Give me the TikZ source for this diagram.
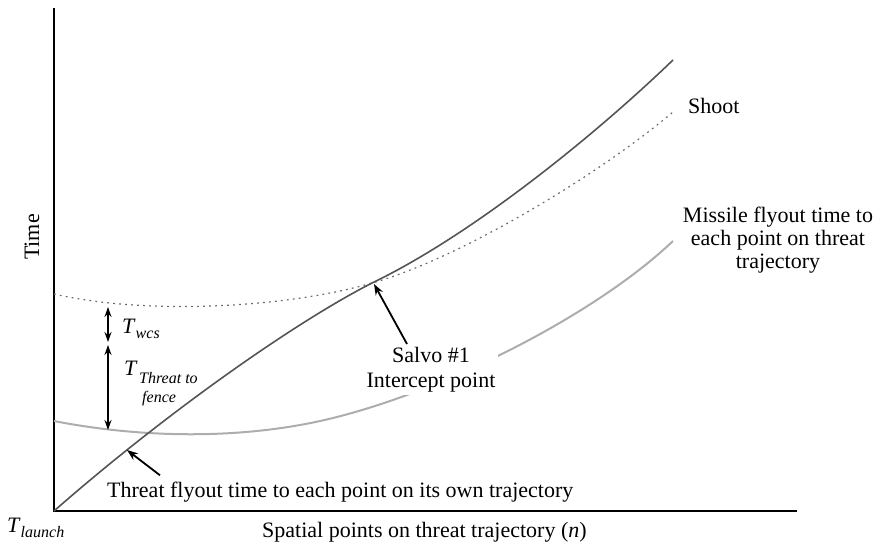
\documentclass[tikz,border=0pt]{standalone}
\usepackage{fontspec}
\setmainfont{Liberation Serif}
\usetikzlibrary{arrows.meta}
\definecolor{threatgray}{gray}{0.33}
\definecolor{shootgray}{gray}{0.42}
\definecolor{missilegray}{gray}{0.68}
\begin{document}
\begin{tikzpicture}[x=1pt,y=-1pt,
  lbl/.style={inner sep=0pt, font=\fontsize{22}{24}\selectfont},
  sublbl/.style={inner sep=0pt, font=\fontsize{16}{16}\selectfont\itshape},
  axisline/.style={line width=2.6pt, black},
  threatcurve/.style={line width=1.6pt, threatgray},
  shootcurve/.style={line width=1.2pt, shootgray, dash pattern=on 1.8pt off 4.2pt},
  missilecurve/.style={line width=2pt, missilegray},
  pointer/.style={line width=1.8pt, black, -{Stealth[length=11pt,width=8pt]}},
  span/.style={line width=1.8pt, black, {Stealth[length=10pt,width=7pt]}-{Stealth[length=10pt,width=7pt]}},
]
\useasboundingbox (0,0) rectangle (877,548);

% axes
\coordinate (ytop) at (54,8);
\coordinate (origin) at (54,511);
\coordinate (xend) at (797,511);
\draw[axisline] (ytop) -- (origin) -- (xend);

% key points of the curves
\coordinate (shootstart) at (54,294);
\coordinate (intercept) at (372,283);
\coordinate (shootend) at (673,112);
\coordinate (missilestart) at (54,421);
\coordinate (missilemid) at (300,425);
\coordinate (missileend) at (673,241);
\coordinate (threatend) at (673,60);

% shoot curve (dotted)
\draw[shootcurve] (shootstart) .. controls (150,316) and (290,307) .. (intercept)
  .. controls (450,262) and (590,182) .. (shootend);

% missile flyout curve
\draw[missilecurve] (missilestart) .. controls (120,434) and (210,441) .. (missilemid)
  .. controls (420,404) and (590,320) .. (missileend);

% threat flyout curve
\draw[threatcurve] (origin) .. controls (160,418) and (290,325) .. (intercept)
  .. controls (470,236) and (592,138) .. (threatend);

% axis labels
\node[lbl, rotate=90] (ylab) at (32,237) {Time};
\node[lbl, anchor=base west] (xlab) at (262,537) {Spatial points on threat trajectory (\textit{n})};
\node[anchor=base west, inner sep=0pt] (tlaunch) at (7,532)
  {\fontsize{22}{24}\selectfont\textit{T}\raisebox{-5pt}{\fontsize{16}{16}\selectfont\textit{launch}}};

% time spans
\coordinate (s1) at (108,307);
\coordinate (s2) at (108,342);
\coordinate (s3) at (108,345);
\coordinate (s4) at (108,430);
\draw[span] (s1) -- (s2);
\draw[span] (s3) -- (s4);
\node[anchor=base west, inner sep=0pt] (twcs) at (122,333)
  {\fontsize{22}{24}\selectfont\textit{T}\raisebox{-5pt}{\fontsize{16}{16}\selectfont\textit{wcs}}};
\node[lbl, anchor=base west] (tfence) at (124,375) {\textit{T}};
\node[sublbl, anchor=base west] (tfenceA) at (139,383) {Threat to};
\node[sublbl, anchor=base west] (tfenceB) at (142,402) {fence};

% curve labels
\node[lbl, anchor=west] (shoot) at (688,106) {Shoot};
\node[lbl, align=center, anchor=north, font=\fontsize{22}{23}\selectfont] (missile) at (778,207)
  {Missile flyout time to\\each point on threat\\trajectory};
\node[lbl, anchor=base west] (threattxt) at (107,497) {Threat flyout time to each point on its own trajectory};
\coordinate (threatpt) at (127,450);
\draw[pointer] ([xshift=53pt, yshift=6pt]threattxt.north west) -- (threatpt);

% intercept label
\node[lbl, align=center, fill=white, inner sep=3pt, anchor=north, font=\fontsize{22}{25}\selectfont] (salvo) at (431,344)
  {Salvo \#1\\Intercept point};
\draw[pointer] ([xshift=-24pt]salvo.north) -- ([shift={(2pt,-1pt)}]intercept);
\end{tikzpicture}
\end{document}
